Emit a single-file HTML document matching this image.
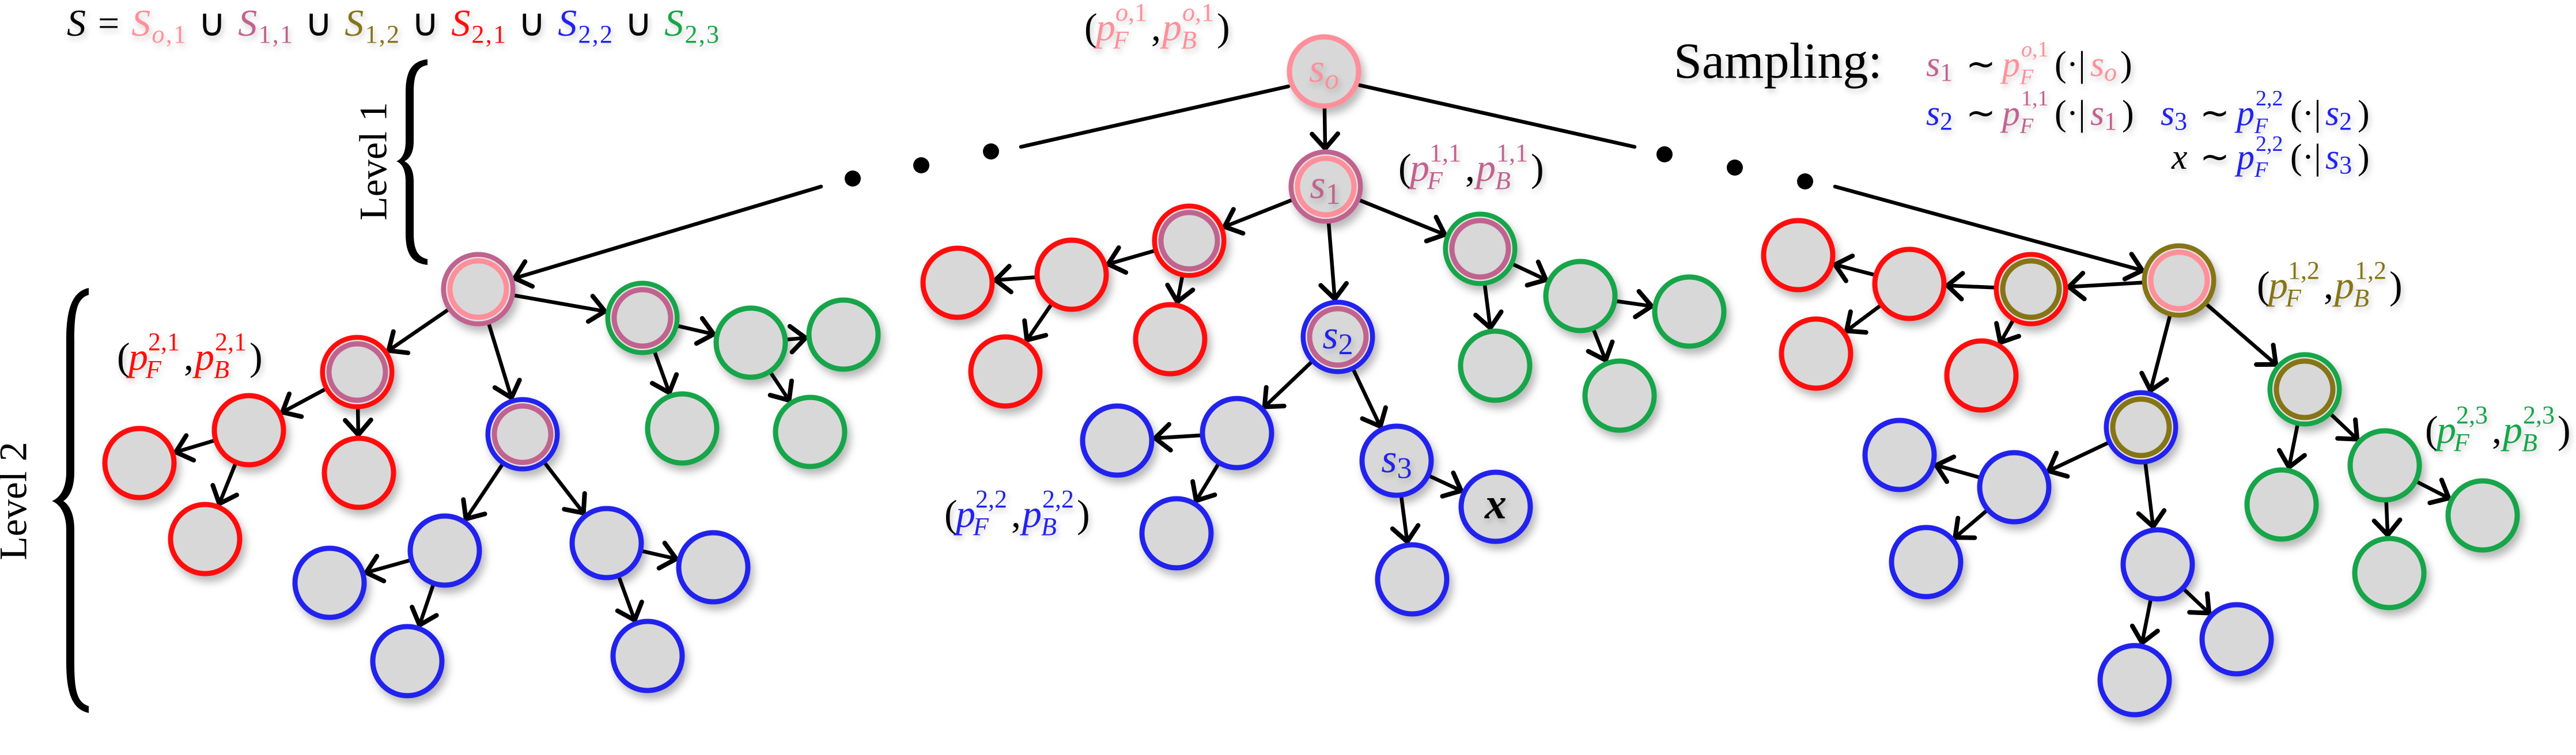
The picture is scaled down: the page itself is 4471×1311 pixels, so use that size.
<!DOCTYPE html>
<html><head><meta charset="utf-8"><style>
html,body{margin:0;padding:0;background:#fff;}
svg{display:block;}
text{font-family:"Liberation Serif",serif;}
.i{font-style:italic;}
</style></head><body>
<svg id="s" width="4471" height="1311" viewBox="0 0 4471 1311" xmlns="http://www.w3.org/2000/svg">
<defs>
<filter id="sh" x="-30%" y="-30%" width="170%" height="170%"><feDropShadow dx="6" dy="10" stdDeviation="7" flood-color="#000" flood-opacity="0.28"/></filter>
<filter id="ts" x="-10%" y="-20%" width="130%" height="160%"><feDropShadow dx="3" dy="6" stdDeviation="5" flood-color="#000" flood-opacity="0.2"/></filter>
</defs>
<g id="edges" stroke="#000" stroke-width="6.5" fill="none" stroke-linecap="round"></g>
<g id="dots" fill="#000">
<circle cx="1480" cy="310" r="14"/><circle cx="1599" cy="287" r="14"/><circle cx="1720" cy="263" r="14"/>
<circle cx="2889" cy="268" r="14"/><circle cx="3011" cy="291" r="14"/><circle cx="3133" cy="315" r="14"/>
</g>
<g id="nodes" filter="url(#sh)"></g>
<g fill="#000" stroke="none">
<path d="M742,103 C714,106 704,125 704,160 L704,245 C704,265 698,276 688,280 C698,284 704,295 704,315 L704,405 C704,440 714,457 742,460 L742,450 C724,446 718,432 718,405 L718,315 C718,296 712,285 702,280 C712,275 718,264 718,245 L718,160 C718,130 724,116 742,113 Z"/>
<path d="M154,500 C126,506 115,535 115,590 L115,820 C115,845 106,864 90,870 C106,876 115,895 115,920 L115,1150 C115,1205 126,1232 154,1238 L154,1226 C134,1220 129,1200 129,1150 L129,920 C129,895 122,878 110,870 C122,862 129,845 129,820 L129,590 C129,540 134,518 154,512 Z"/>
</g>
<text x="0" y="0" font-size="68" transform="translate(655,280) rotate(-90)" text-anchor="middle" dominant-baseline="middle">Level 1</text>
<text x="0" y="0" font-size="68" transform="translate(30,870) rotate(-90)" text-anchor="middle" dominant-baseline="middle">Level 2</text>

<g filter="url(#ts)">
<text x="2298" y="142" font-size="70" class="i" fill="#ff8f9a" text-anchor="middle">s<tspan font-size="50" dy="12">o</tspan></text>
<text x="2300" y="344" font-size="70" class="i" fill="#c0648e" text-anchor="middle">s<tspan font-size="52" dy="10" font-style="normal">1</tspan></text>
<text x="2322" y="605" font-size="70" class="i" fill="#2323ee" text-anchor="middle">s<tspan font-size="52" dy="10" font-style="normal">2</tspan></text>
<text x="2424" y="820" font-size="70" class="i" fill="#2323ee" text-anchor="middle">s<tspan font-size="52" dy="10" font-style="normal">3</tspan></text>
<text x="2596" y="900" font-size="76" class="i" fill="#000" text-anchor="middle" font-weight="bold">x</text>

<text x="116" y="62" font-size="66" textLength="1132" lengthAdjust="spacing"><tspan class="i">S</tspan> = <tspan class="i" fill="#ff8f9a">S</tspan><tspan fill="#ff8f9a" font-size="44" dy="12"><tspan class="i">o</tspan>,1</tspan><tspan dy="-12"> ∪ </tspan><tspan class="i" fill="#c0648e">S</tspan><tspan fill="#c0648e" font-size="44" dy="12">1,1</tspan><tspan dy="-12"> ∪ </tspan><tspan class="i" fill="#857514">S</tspan><tspan fill="#857514" font-size="44" dy="12">1,2</tspan><tspan dy="-12"> ∪ </tspan><tspan class="i" fill="#ff0d0d">S</tspan><tspan fill="#ff0d0d" font-size="44" dy="12">2,1</tspan><tspan dy="-12"> ∪ </tspan><tspan class="i" fill="#2323ee">S</tspan><tspan fill="#2323ee" font-size="44" dy="12">2,2</tspan><tspan dy="-12"> ∪ </tspan><tspan class="i" fill="#12a54a">S</tspan><tspan fill="#12a54a" font-size="44" dy="12">2,3</tspan></text>

<text x="2905" y="135" font-size="88">Sampling:</text>

<g transform="translate(1882,70)" fill="#ff8f9a" font-size="68"><text x="0" y="0" fill="#000">(</text><text x="20" y="0" class="i">p</text><text x="54" y="-34" font-size="44"><tspan class="i">o</tspan>,1</text><text x="50" y="14" font-size="44" class="i">F</text><text x="116" y="0" fill="#000">,</text><text x="135" y="0" class="i">p</text><text x="170" y="-34" font-size="44"><tspan class="i">o</tspan>,1</text><text x="168" y="14" font-size="44" class="i">B</text><text x="230" y="0" fill="#000">)</text></g>
<g transform="translate(2427,314)" fill="#c0648e" font-size="68"><text x="0" y="0" fill="#000">(</text><text x="20" y="0" class="i">p</text><text x="54" y="-34" font-size="44">1,1</text><text x="50" y="14" font-size="44" class="i">F</text><text x="116" y="0" fill="#000">,</text><text x="135" y="0" class="i">p</text><text x="170" y="-34" font-size="44">1,1</text><text x="168" y="14" font-size="44" class="i">B</text><text x="230" y="0" fill="#000">)</text></g>
<g transform="translate(203,642)" fill="#ff0d0d" font-size="68"><text x="0" y="0" fill="#000">(</text><text x="20" y="0" class="i">p</text><text x="54" y="-34" font-size="44">2,1</text><text x="50" y="14" font-size="44" class="i">F</text><text x="116" y="0" fill="#000">,</text><text x="135" y="0" class="i">p</text><text x="170" y="-34" font-size="44">2,1</text><text x="168" y="14" font-size="44" class="i">B</text><text x="230" y="0" fill="#000">)</text></g>
<g transform="translate(1639,915)" fill="#2323ee" font-size="68"><text x="0" y="0" fill="#000">(</text><text x="20" y="0" class="i">p</text><text x="54" y="-34" font-size="44">2,2</text><text x="50" y="14" font-size="44" class="i">F</text><text x="116" y="0" fill="#000">,</text><text x="135" y="0" class="i">p</text><text x="170" y="-34" font-size="44">2,2</text><text x="168" y="14" font-size="44" class="i">B</text><text x="230" y="0" fill="#000">)</text></g>
<g transform="translate(3917,518)" fill="#857514" font-size="68"><text x="0" y="0" fill="#000">(</text><text x="20" y="0" class="i">p</text><text x="54" y="-34" font-size="44">1,2</text><text x="50" y="14" font-size="44" class="i">F</text><text x="116" y="0" fill="#000">,</text><text x="135" y="0" class="i">p</text><text x="170" y="-34" font-size="44">1,2</text><text x="168" y="14" font-size="44" class="i">B</text><text x="230" y="0" fill="#000">)</text></g>
<g transform="translate(4209,769)" fill="#12a54a" font-size="68"><text x="0" y="0" fill="#000">(</text><text x="20" y="0" class="i">p</text><text x="54" y="-34" font-size="44">2,3</text><text x="50" y="14" font-size="44" class="i">F</text><text x="116" y="0" fill="#000">,</text><text x="135" y="0" class="i">p</text><text x="170" y="-34" font-size="44">2,3</text><text x="168" y="14" font-size="44" class="i">B</text><text x="230" y="0" fill="#000">)</text></g>

<g font-size="62">
<text x="3343" y="132" fill="#c0648e" class="i">s<tspan font-size="44" dy="8" font-style="normal">1</tspan></text>
<text x="3412" y="132">∼</text>
<text x="3475" y="132" fill="#ff8f9a" class="i">p</text><text x="3508" y="98" font-size="38" fill="#ff8f9a"><tspan class="i">o</tspan>,1</text><text x="3506" y="146" font-size="38" fill="#ff8f9a" class="i">F</text>
<text x="3566" y="132">(·|</text>
<text x="3628" y="132" fill="#ff8f9a" class="i">s<tspan font-size="44" dy="8">o</tspan></text>
<text x="3680" y="132">)</text>

<text x="3343" y="217" fill="#2323ee" class="i">s<tspan font-size="44" dy="8" font-style="normal">2</tspan></text>
<text x="3412" y="217">∼</text>
<text x="3475" y="217" fill="#c0648e" class="i">p</text><text x="3508" y="183" font-size="38" fill="#c0648e">1,1</text><text x="3506" y="231" font-size="38" fill="#c0648e" class="i">F</text>
<text x="3566" y="217">(·|</text>
<text x="3628" y="217" fill="#c0648e" class="i">s<tspan font-size="44" dy="8" font-style="normal">1</tspan></text>
<text x="3683" y="217">)</text>

<text x="3750" y="217" fill="#2323ee" class="i">s<tspan font-size="44" dy="8" font-style="normal">3</tspan></text>
<text x="3818" y="217">∼</text>
<text x="3882" y="217" fill="#2323ee" class="i">p</text><text x="3915" y="183" font-size="38" fill="#2323ee">2,2</text><text x="3913" y="231" font-size="38" fill="#2323ee" class="i">F</text>
<text x="3975" y="217">(·|</text>
<text x="4036" y="217" fill="#2323ee" class="i">s<tspan font-size="44" dy="8" font-style="normal">2</tspan></text>
<text x="4092" y="217">)</text>

<text x="3769" y="293" class="i">x</text>
<text x="3818" y="293">∼</text>
<text x="3882" y="293" fill="#2323ee" class="i">p</text><text x="3915" y="262" font-size="38" fill="#2323ee">2,2</text><text x="3913" y="307" font-size="38" fill="#2323ee" class="i">F</text>
<text x="3975" y="293">(·|</text>
<text x="4036" y="293" fill="#2323ee" class="i">s<tspan font-size="44" dy="8" font-style="normal">3</tspan></text>
<text x="4092" y="293">)</text>
</g>
</g>
</svg>
<script>
(function(){
var NS="http://www.w3.org/2000/svg";
var C={p:"#ff8f9a",u:"#c0648e",o:"#857514",r:"#ff0d0d",b:"#2323ee",g:"#12a54a"};
var N={
A:[830,502,"u","p"],G1:[1115,552,"g","u"],G2:[1303,595,"g"],G3:[1464,581,"g"],G4:[1184,744,"g"],G5:[1406,750,"g"],
R1:[620,646,"r","u"],R2:[432,747,"r"],R3:[242,804,"r"],R4:[356,936,"r"],R5:[623,821,"r"],
B1:[907,754,"b","u"],B2:[772,956,"b"],B3:[572,1012,"b"],B4:[707,1148,"b"],B5:[1053,943,"b"],B6:[1238,985,"b"],B7:[1124,1139,"b"],
SO:[2298,124,"p"],S1:[2301,324,"u","p"],
MR1:[2064,418,"r","u"],MR2:[1860,477,"r"],MR3:[1662,491,"r"],MR4:[1745,645,"r"],MR5:[2031,589,"r"],
S2:[2322,585,"b","u"],MB1:[2147,752,"b"],MB2:[1939,765,"b"],MB3:[2042,926,"b"],S3:[2424,800,"b"],X:[2596,880,"b"],MB4:[2451,1006,"b"],
MG1:[2569,432,"g","u"],MG2:[2743,514,"g"],MG3:[2932,541,"g"],MG4:[2595,635,"g"],MG5:[2811,687,"g"],
O:[3782,487,"o","p"],
RR1:[3525,502,"r","o"],RR2:[3314,493,"r"],RR3:[3121,443,"r"],RR4:[3152,614,"r"],RR5:[3439,652,"r"],
RB1:[3716,742,"b","o"],RB2:[3496,846,"b"],RB3:[3297,790,"b"],RB4:[3343,976,"b"],RB5:[3745,980,"b"],RB6:[3705,1181,"b"],RB7:[3882,1110,"b"],
RG1:[4000,676,"g","o"],RG2:[3960,876,"g"],RG3:[4139,808,"g"],RG4:[4309,895,"g"],RG5:[4147,995,"g"]
};
var E=[["A","R1"],["A","G1"],["A","B1"],["R1","R2"],["R1","R5"],["R2","R3"],["R2","R4"],["G1","G2"],["G1","G4"],["G2","G3"],["G2","G5"],["B1","B2"],["B1","B5"],["B2","B3"],["B2","B4"],["B5","B6"],["B5","B7"],
["SO","S1"],["S1","MR1"],["S1","S2"],["S1","MG1"],["MR1","MR2"],["MR1","MR5"],["MR2","MR3"],["MR2","MR4"],["S2","MB1"],["S2","S3"],["MB1","MB2"],["MB1","MB3"],["S3","X"],["S3","MB4"],["MG1","MG2"],["MG1","MG4"],["MG2","MG3"],["MG2","MG5"],
["O","RR1"],["O","RB1"],["O","RG1"],["RR1","RR2"],["RR1","RR5"],["RR2","RR3"],["RR2","RR4"],["RB1","RB2"],["RB1","RB5"],["RB2","RB3"],["RB2","RB4"],["RB5","RB6"],["RB5","RB7"],["RG1","RG2"],["RG1","RG3"],["RG3","RG4"],["RG3","RG5"]];
var eg=document.getElementById("edges"),ng=document.getElementById("nodes");
function el(t,a,p){var e=document.createElementNS(NS,t);for(var k in a)e.setAttribute(k,a[k]);p.appendChild(e);return e;}
function arrow(x1,y1,x2,y2,head){
 el("line",{x1:x1,y1:y1,x2:x2,y2:y2},eg);
 if(!head)return;
 var a=Math.atan2(y2-y1,x2-x1),L=34,h=0.72;
 var d="M"+(x2-L*Math.cos(a-h))+","+(y2-L*Math.sin(a-h))+" L"+x2+","+y2+" L"+(x2-L*Math.cos(a+h))+","+(y2-L*Math.sin(a+h));
 el("path",{d:d,"stroke-linejoin":"miter","stroke-width":8},eg);
}
function edge(a,b){var A=N[a],B=N[b];var dx=B[0]-A[0],dy=B[1]-A[1],d=Math.sqrt(dx*dx+dy*dy);var ux=dx/d,uy=dy/d;
 arrow(A[0]+ux*62,A[1]+uy*62,B[0]-ux*66,B[1]-uy*66,true);}
E.forEach(function(e){edge(e[0],e[1]);});
function toNode(x,y,n,head){var B=N[n];var dx=B[0]-x,dy=B[1]-y,d=Math.sqrt(dx*dx+dy*dy);arrow(x,y,B[0]-dx/d*66,B[1]-dy/d*66,head);}
toNode(1425,324,"A",true);
toNode(3185,324,"O",true);
arrow(2236,150,1772,255,false);
arrow(2360,148,2837,255,false);
for(var k in N){var n=N[k];
 el("circle",{cx:n[0],cy:n[1],r:60,fill:"#d8d8d8",stroke:C[n[2]],"stroke-width":9},ng);
 if(n[3]){el("circle",{cx:n[0],cy:n[1],r:55,fill:"none",stroke:"#e8e0e0","stroke-width":2},ng);
  el("circle",{cx:n[0],cy:n[1],r:49,fill:"none",stroke:C[n[3]],"stroke-width":9},ng);}
}
})();
</script>
</body></html>
